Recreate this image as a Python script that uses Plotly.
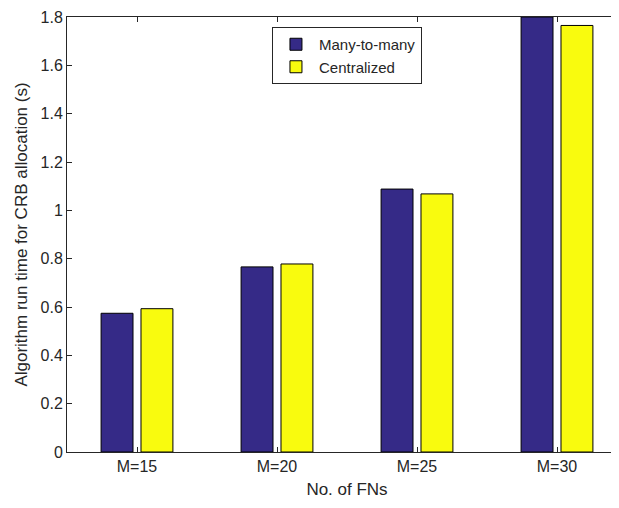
import plotly.graph_objects as go

categories = ["M=15", "M=20", "M=25", "M=30"]
many_to_many = [0.574, 0.766, 1.088, 1.80]
centralized = [0.593, 0.778, 1.068, 1.765]
y_ticks = [0, 0.2, 0.4, 0.6, 0.8, 1, 1.2, 1.4, 1.6, 1.8]

xpos = list(range(1, len(categories) + 1))
bw = 0.228

fig = go.Figure()
fig.add_trace(go.Bar(x=xpos, y=many_to_many, name="Many-to-many", width=bw, offset=-0.2565,
                     marker=dict(color="#352A87", line=dict(color="black", width=1))))
fig.add_trace(go.Bar(x=xpos, y=centralized, name="Centralized", width=bw, offset=0.0285,
                     marker=dict(color="#F9FB0E", line=dict(color="black", width=1))))

font = dict(family="Liberation Sans, Arial, sans-serif", color="#262626")
fig.update_layout(
    width=619, height=508, barmode="overlay",
    margin=dict(l=59, r=0, t=9, b=64, autoexpand=False),
    plot_bgcolor="white", paper_bgcolor="white",
    font=dict(size=16, **font),
    legend=dict(x=0.366, y=0.977, xanchor="left", yanchor="top",
                bordercolor="#262626", borderwidth=1, bgcolor="white",
                font=dict(size=15, **font), tracegroupgap=0, itemwidth=36),
    xaxis=dict(range=[0.5, 4.5], tickvals=xpos, ticktext=categories,
               showline=True, linecolor="#262626", linewidth=1, mirror="ticks",
               ticks="inside", ticklen=5, tickcolor="#262626", showgrid=False, zeroline=False,
               tickfont=dict(size=16, **font),
               title=dict(text="No. of FNs", font=dict(size=17, **font), standoff=8)),
    yaxis=dict(range=[0, 1.8], tickvals=y_ticks, ticktext=[f"{v:g}" for v in y_ticks],
               showline=True, linecolor="#262626", linewidth=1,
               ticks="inside", ticklen=5, tickcolor="#262626", showgrid=False, zeroline=False,
               tickfont=dict(size=16, **font),
               title=dict(text="Algorithm run time for CRB allocation (s)", font=dict(size=17, **font), standoff=8)),
)
fig.write_html("out.html")
